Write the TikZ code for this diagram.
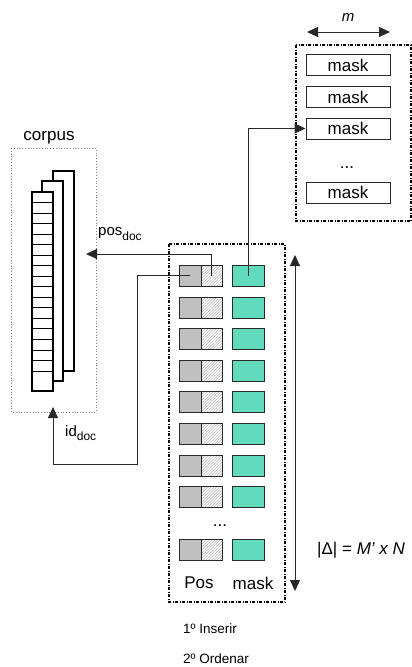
\documentclass[tikz,border=0pt]{standalone}
\usepackage{fontspec}
\setmainfont{Liberation Sans}
\usetikzlibrary{arrows.meta,patterns.meta}
\definecolor{cellgrey}{RGB}{192,192,192}
\definecolor{maskgreen}{RGB}{62,212,172}
\definecolor{linegrey}{RGB}{40,40,40}
\tikzset{
  cell/.style={draw=linegrey,line width=1pt,inner sep=0pt,minimum height=21pt},
  greycell/.style={cell,fill=cellgrey,minimum width=22pt},
  hatchcell/.style={cell,minimum width=21pt,
    pattern={Lines[angle=45,distance=2pt,line width=0.5pt]},pattern color=gray!60},
  greencell/.style={cell,minimum width=32pt,preaction={fill=maskgreen},
    pattern={Dots[radius=0.55pt,distance=2pt]},pattern color=white!80!maskgreen},
  maskcell/.style={cell,minimum width=84pt,font=\fontsize{17}{19}\selectfont},
  page/.style={draw=black,line width=1.1pt,fill=white},
  groupbox/.style={draw=black,line width=1.3pt,dash pattern=on 3pt off 1.5pt on 1pt off 1.5pt},
  corpusbox/.style={draw=gray,line width=0.8pt,dotted},
  conn/.style={draw=linegrey,line width=1pt},
  tip/.style={-{Triangle[length=11pt,width=10pt]}},
  twotips/.style={{Triangle[length=11pt,width=10pt]}-{Triangle[length=11pt,width=10pt]}},
  lbl/.style={inner sep=0pt,font=\fontsize{17}{19}\selectfont},
  small/.style={inner sep=0pt,font=\fontsize{13.5}{15}\selectfont}
}
\begin{document}
\begin{tikzpicture}[x=1pt,y=-1pt]
\useasboundingbox (0,0) rectangle (412,667);

% corpus: dotted frame with three stacked pages
\draw[corpusbox] (11,148) rectangle (96,412);
\node[lbl] (corpus) at (49,138) {corpus};
\draw[page] (53,171) rectangle (74,371);
\draw[page] (42,181) rectangle (63,381);
\draw[page] (32,192) rectangle (53,391);
\foreach \k in {1,...,17}
  \draw[black,line width=0.9pt] (32,{192+\k*10.53}) -- (53,{192+\k*10.53});

% index table: position pairs and masks
\draw[groupbox] (169,244) rectangle (285,602);
\foreach \r/\y in {1/275.5,2/307.5,3/338.5,4/370.5,5/401.5,6/433.5,7/465.5,8/496.5,9/549.5}{
  \node[greycell] (g\r) at (190,\y) {};
  \node[hatchcell] (h\r) at (211.5,\y) {};
  \node[greencell] (k\r) at (248,\y) {};
}
\node[lbl] (dotsA) at (220,526) {...};
\node[lbl] (poslbl) at (199,583) {Pos};
\node[lbl] (masklbl) at (253,583) {mask};

% mask table of width m
\draw[groupbox] (296,45) rectangle (411,221);
\node[maskcell] (m1) at (348,65) {mask};
\node[maskcell] (m2) at (348,97) {mask};
\node[maskcell] (m3) at (348,128.5) {mask};
\node[lbl] (dotsB) at (347,168) {...};
\node[maskcell] (m4) at (348,192.5) {mask};
\coordinate (mL) at (307,32);
\coordinate (mR) at (390,32);
\draw[conn,twotips] (mL) -- (mR);
\node[lbl,font=\fontsize{15}{17}\selectfont\itshape] (mlbl) at (348,17) {m};

% size of the table
\coordinate (dTop) at (295,255);
\coordinate (dBot) at (295,591);
\draw[conn,twotips] (dTop) -- (dBot);
\node[lbl,anchor=west] (size) at (317,550) {|Δ| = \textit{M’ x N}};

% links from the first entry
\coordinate (posTip) at (86,254);
\draw[conn,tip] (h1.center) |- (posTip);
\node[lbl,anchor=west,font=\fontsize{15}{17}\selectfont] (poslab) at (98,234)
  {pos\raisebox{-0.3em}{\fontsize{12}{12}\selectfont doc}};
\coordinate (idTurn) at (137,464);
\coordinate (idTip) at (53,407);
\draw[conn,tip] (g1.center) -| (idTurn) -| (idTip);
\node[lbl,anchor=west,font=\fontsize{15}{17}\selectfont] (idlab) at (65,433)
  {id\raisebox{-0.3em}{\fontsize{12}{12}\selectfont doc}};
\draw[conn,tip] (k1.center) |- (m3.west);

% steps
\node[small,anchor=west] (step1) at (183,629) {1º Inserir};
\node[small,anchor=west] (step2) at (183,659) {2º Ordenar};
\end{tikzpicture}
\end{document}
